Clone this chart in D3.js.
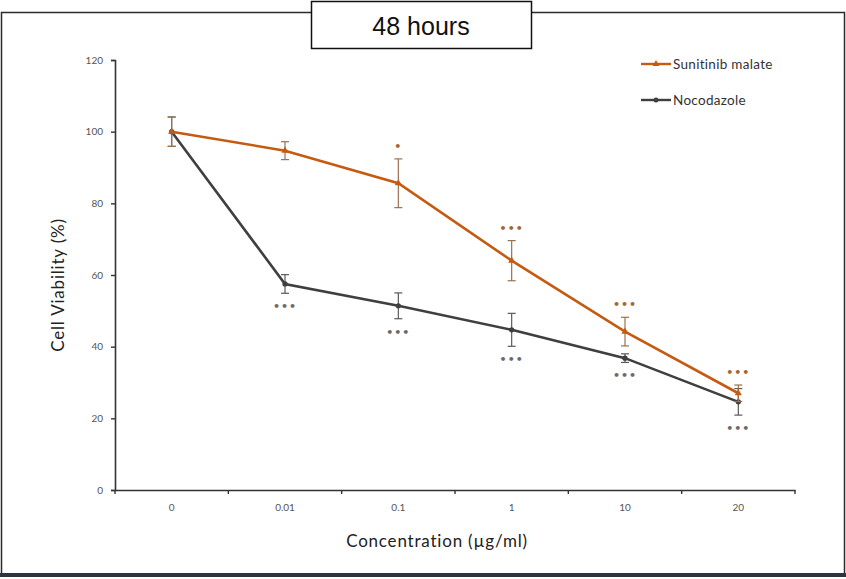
<!DOCTYPE html>
<html><head><meta charset="utf-8">
<script src="https://cdn.jsdelivr.net/npm/d3@7"></script>
<style>body{margin:0;background:#fff;}svg{display:block;}</style>
</head><body>
<svg id="chart" width="846" height="579"></svg>
<script>
const categories = ["0", "0.01", "0.1", "1", "10", "20"];
const sunitinib = [100, 94.7, 85.6, 64.0, 44.2, 27.0];
const sunitinibErr = [4.1, 2.5, 6.8, 5.6, 4.0, 2.3];
const sunitinibSig = ["", "", "*", "***", "***", "***"];
const nocodazole = [100, 57.5, 51.4, 44.7, 36.8, 24.6];
const nocodazoleErr = [4.1, 2.6, 3.6, 4.6, 1.2, 3.7];
const nocodazoleSig = ["", "***", "***", "***", "***", "***"];
const yTicks = [0, 20, 40, 60, 80, 100, 120];

const svg = d3.select("#chart");
const orange = "#C55A11", gray = "#3f3f3f";
const orangeErr = "#9a7250", grayErr = "#5a5a5a";
const orangeSig = "#a8642e", graySig = "#6a6a6a";

// frame
svg.append("rect").attr("x",1.5).attr("y",12.5).attr("width",843).attr("height",562)
  .attr("fill","#fff").attr("stroke","#2a2a2a").attr("stroke-width",1.5);
svg.append("rect").attr("x",0).attr("y",573).attr("width",846).attr("height",4).attr("fill","#2c3440");

// title box
svg.append("rect").attr("x",311.5).attr("y",1.5).attr("width",220).attr("height",47)
  .attr("fill","#fff").attr("stroke","#111").attr("stroke-width",1.5);
svg.append("text").attr("x",421).attr("y",35).attr("text-anchor","middle")
  .attr("font-family","Liberation Sans, Arial, sans-serif").attr("font-size",25).attr("fill","#111").text("48 hours");

const x = d3.scaleBand().domain(categories).range([115, 795]);
const y = d3.scaleLinear().domain([0, 120]).range([490, 60]);

const font = "Lato, 'Open Sans', sans-serif";

// axes
const yAxis = svg.append("g").attr("transform","translate(115,0)")
  .call(d3.axisLeft(y).tickValues(yTicks).tickSize(4).tickPadding(8));
const xAxis = svg.append("g").attr("transform","translate(0,490)")
  .call(d3.axisBottom(x).tickSize(0).tickPadding(14));
[yAxis, xAxis].forEach(a => {
  a.select(".domain").attr("stroke","#333").attr("stroke-width",1.6);
  a.selectAll(".tick line").attr("stroke","#333").attr("stroke-width",1.4);
  a.selectAll(".tick text").attr("font-family",font).attr("font-size",10).attr("fill","#555");
});
// x ticks at band boundaries
const bounds = categories.map(c => x(c)).concat([x.range()[1]]);
xAxis.selectAll(".bt").data(bounds).enter().append("line")
  .attr("x1",d=>d).attr("x2",d=>d).attr("y1",0).attr("y2",4)
  .attr("stroke","#333").attr("stroke-width",1.4);

// axis titles
svg.append("text").attr("transform","translate(64,285) rotate(-90)").attr("text-anchor","middle")
  .attr("font-family",font).attr("font-size",17).attr("letter-spacing",0.8).attr("fill","#222").text("Cell Viability (%)");
svg.append("text").attr("x",437).attr("y",547).attr("text-anchor","middle")
  .attr("font-family",font).attr("font-size",17).attr("letter-spacing",0.8).attr("fill","#222").text("Concentration (µg/ml)");

const cx = c => x(c) + x.bandwidth()/2;

function drawSeries(vals, errs, sig, color, errColor, sigColor, marker, sigAbove) {
  const data = categories.map((c,i)=>({c, v:vals[i], e:errs[i], s:sig[i]}));
  const g = svg.append("g");
  data.forEach(d => {
    const top = y(d.v + d.e), bot = y(d.v - d.e);
    g.append("line").attr("x1",cx(d.c)).attr("x2",cx(d.c)).attr("y1",top).attr("y2",bot)
      .attr("stroke",errColor).attr("stroke-width",1.2);
    [top, bot].forEach(yy => g.append("line").attr("x1",cx(d.c)-4).attr("x2",cx(d.c)+4)
      .attr("y1",yy).attr("y2",yy).attr("stroke",errColor).attr("stroke-width",1.2));
  });
  g.append("path").datum(data)
    .attr("d", d3.line().x(d=>cx(d.c)).y(d=>y(d.v)))
    .attr("fill","none").attr("stroke",color).attr("stroke-width",2.6);
  g.selectAll(".m").data(data).enter().append("path")
    .attr("transform",d=>`translate(${cx(d.c)},${y(d.v)})`)
    .attr("d", d3.symbol().type(marker).size(22)).attr("fill",color);
  g.selectAll(".s").data(data.filter(d=>d.s)).enter().append("text")
    .attr("x",d=>cx(d.c)).attr("y",d=> sigAbove ? y(d.v+d.e)-9 : y(d.v-d.e)+17)
    .attr("text-anchor","middle").attr("font-family","DejaVu Sans, sans-serif")
    .attr("font-size",11).attr("font-weight","bold").attr("letter-spacing",1)
    .attr("fill",sigColor).text(d=>d.s.replace(/\*/g,"•"));
}
drawSeries(nocodazole, nocodazoleErr, nocodazoleSig, gray, grayErr, graySig, d3.symbolCircle, false);
drawSeries(sunitinib, sunitinibErr, sunitinibSig, orange, orangeErr, orangeSig, d3.symbolTriangle, true);

// legend
const legend = [{name:"Sunitinib malate", color:orange, m:d3.symbolTriangle, y:64},
                {name:"Nocodazole", color:gray, m:d3.symbolCircle, y:100}];
legend.forEach(l => {
  svg.append("line").attr("x1",641).attr("x2",671).attr("y1",l.y).attr("y2",l.y)
    .attr("stroke",l.color).attr("stroke-width",2.4);
  svg.append("path").attr("transform",`translate(656,${l.y})`)
    .attr("d",d3.symbol().type(l.m).size(20)).attr("fill",l.color);
  svg.append("text").attr("x",673).attr("y",l.y+4.5).attr("font-family",font)
    .attr("font-size",13.5).attr("letter-spacing",0.3).attr("fill","#333").text(l.name);
});
</script>
</body></html>
